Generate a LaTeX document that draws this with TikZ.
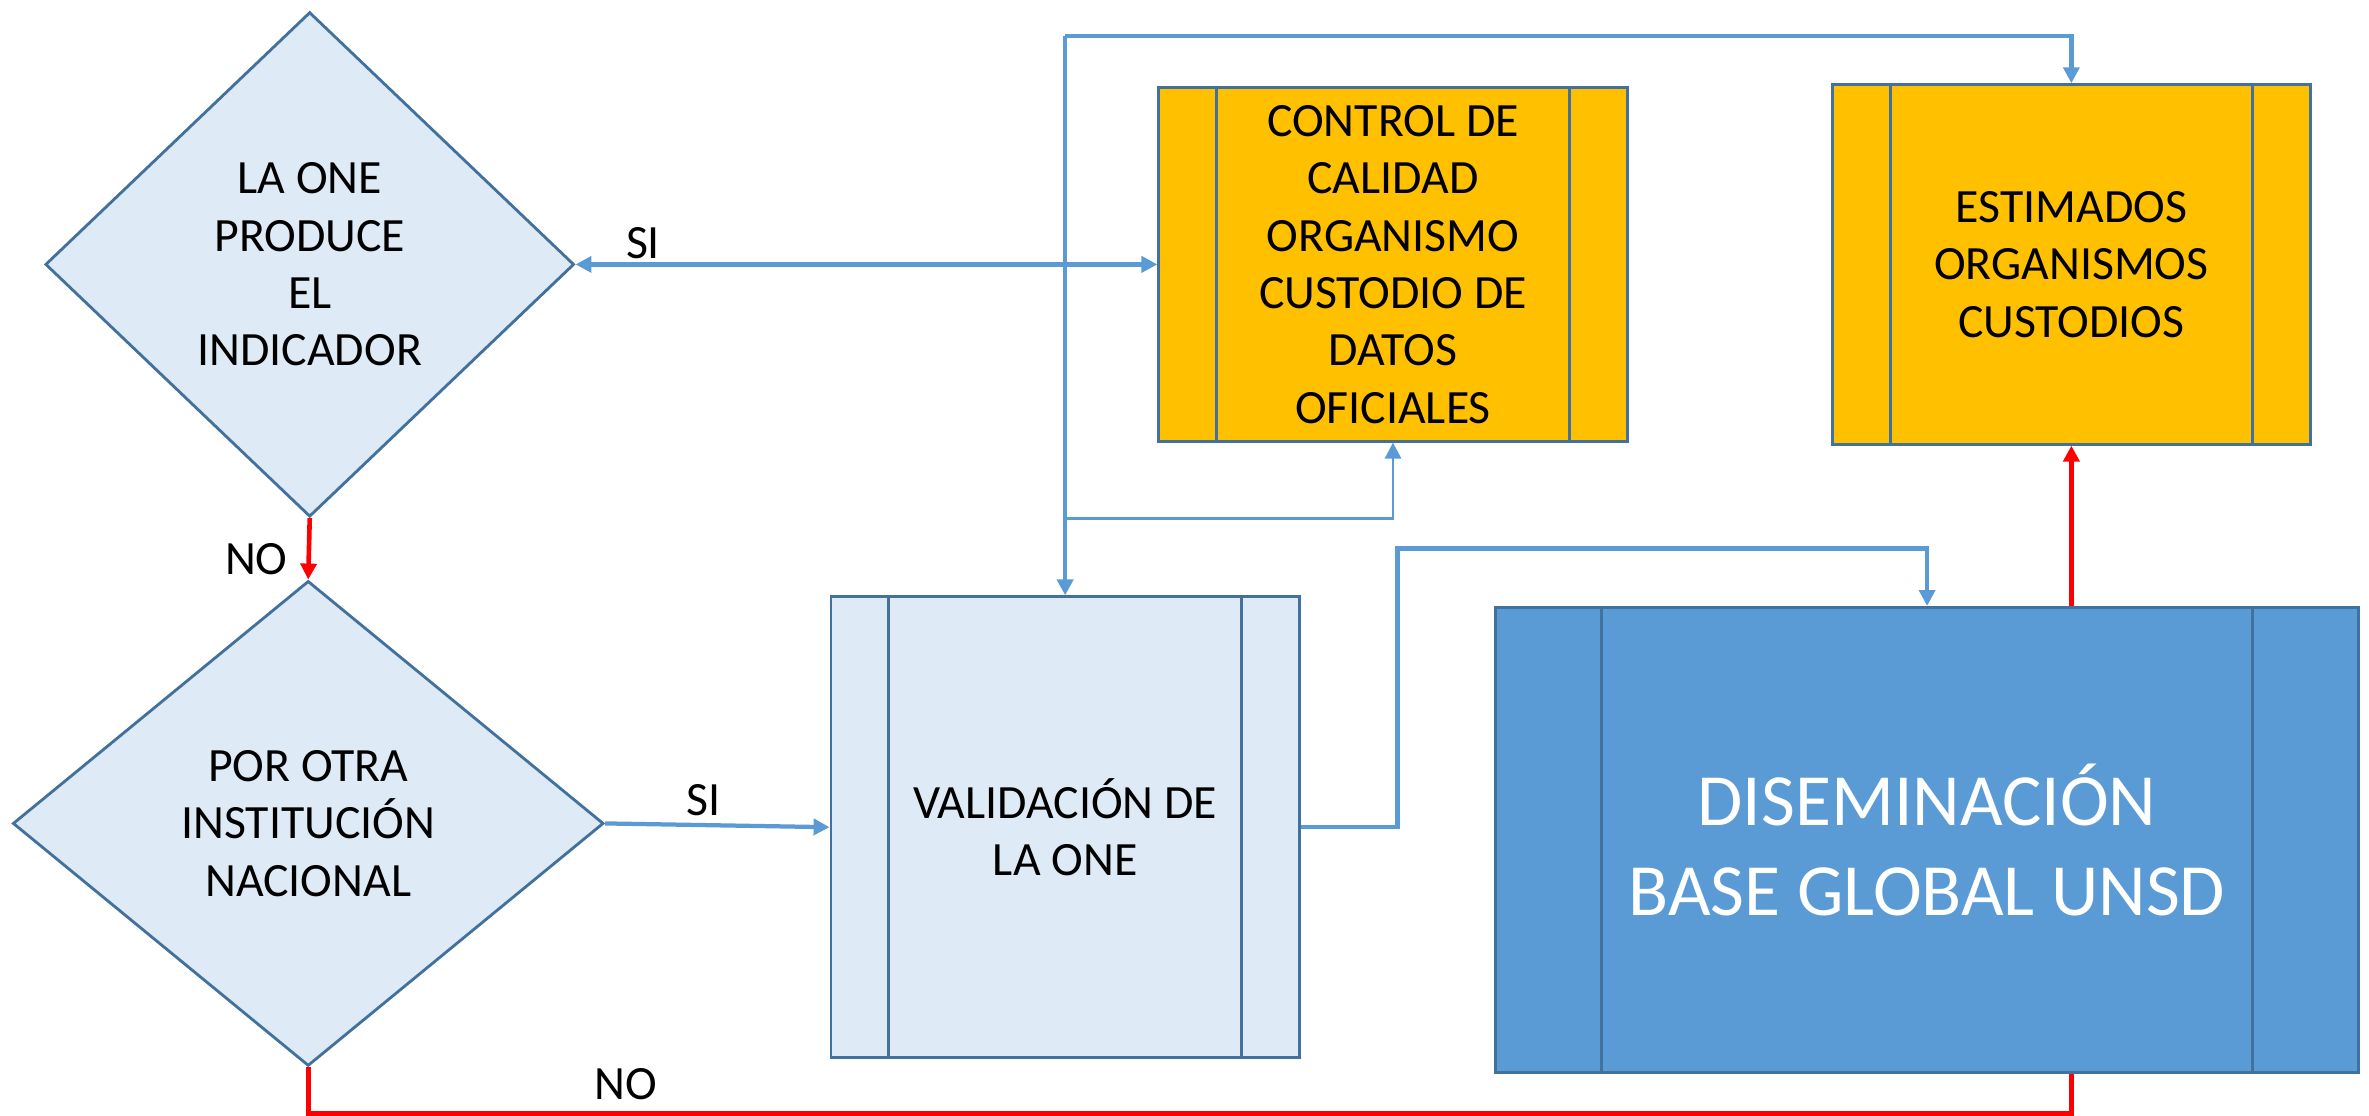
\documentclass[tikz,border=0pt]{standalone}
\usepackage{fontspec}
\setmainfont{Carlito}
\usepackage{tikz}
\usetikzlibrary{shapes.geometric,arrows.meta,positioning}
\definecolor{claro}{RGB}{222,235,247}
\definecolor{borde}{RGB}{65,113,156}
\definecolor{naranja}{RGB}{255,192,0}
\definecolor{azul}{RGB}{91,155,213}
\definecolor{rojo}{RGB}{255,0,0}
\tikzstyle{decision} = [diamond, draw=borde, fill=claro, align=center, inner sep=0pt, line width=0.8pt]
\tikzstyle{subproceso} = [rectangle, draw=borde, align=center, inner sep=0pt, line width=0.8pt]
\tikzstyle{line} = [draw=azul, line width=1.2pt]
\tikzstyle{lineno} = [draw=rojo, line width=1.3pt]

\begin{document}
\begin{tikzpicture}[x=0.015cm, y=-0.015cm, font=\fontsize{13.5}{16.2}\selectfont,
    >={Triangle[length=4.5pt,width=4.5pt]}]
    \useasboundingbox (0,0) rectangle (1568,738.6);
    % decisiones
    \node [decision, minimum width=5.25cm, minimum height=5.01cm] (produce) at (205,175) {LA ONE\\PRODUCE\\EL\\INDICADOR};
    \node [decision, minimum width=5.865cm, minimum height=4.815cm] (otra) at (204,545) {POR OTRA\\INSTITUCIÓN\\NACIONAL};
    % procesos
    \node [subproceso, fill=claro, minimum width=4.65cm, minimum height=4.575cm] (valid) at (705,547.5) {VALIDACIÓN DE\\LA ONE};
    \node [subproceso, fill=naranja, minimum width=4.65cm, minimum height=3.51cm] (control) at (922,175) {CONTROL DE\\CALIDAD\\ORGANISMO\\CUSTODIO DE\\DATOS\\OFICIALES};
    \node [subproceso, fill=naranja, minimum width=4.74cm, minimum height=3.57cm] (estim) at (1371,175) {ESTIMADOS\\ORGANISMOS\\CUSTODIOS};
    \node [subproceso, fill=azul, text=white, minimum width=8.565cm, minimum height=4.62cm,
        font=\fontsize{20.8}{25.6}\selectfont] (disem) at (1275.5,556) {DISEMINACIÓN\\BASE GLOBAL UNSD};
    \foreach \caja/\sep in {valid/39, control/39, estim/39, disem/71} {
        \draw [borde, line width=0.8pt] ([xshift=\sep*0.015cm]\caja.north west) -- ([xshift=\sep*0.015cm]\caja.south west);
        \draw [borde, line width=0.8pt] ([xshift=-\sep*0.015cm]\caja.north east) -- ([xshift=-\sep*0.015cm]\caja.south east);
    }
    \coordinate (arriba) at (705,24);
    \coordinate (rama) at (705,343);
    \coordinate (codo) at (925,363);
    \coordinate (fondo) at (0,737);

    \path [line, <->] (produce.east) -- node [pos=0.116, above, inner sep=1pt] {SI} (control.west);
    \path [line, ->] (arriba) -- (valid.north);
    \path [line, ->] (arriba) -| (estim.north);
    \path [line, line width=0.8pt, ->] (rama) -| (control.south);
    \path [line, ->] (otra.east) -- node [pos=0.44, above, inner sep=2pt] {SI} (valid.west);
    \path [line, ->] (valid.east) -| (codo) -| (disem.north);
    \path [lineno, ->] (produce.south) -- node [pos=0.67, left=2pt] {NO} (otra.north);
    \path [lineno, ->] (disem.north -| estim.south) -- (estim.south);
    \path [lineno] (otra.south) -- (otra.south |- fondo) -- node [pos=0.18, above] {NO} (estim.south |- fondo) -- (disem.south -| estim.south);
\end{tikzpicture}
\end{document}
